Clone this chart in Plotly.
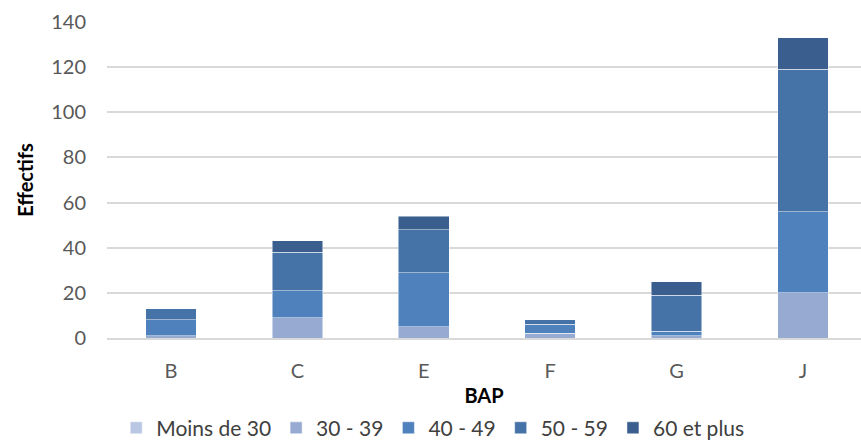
import plotly.graph_objects as go

categories = ["B", "C", "E", "F", "G", "J"]
series_names = ["Moins de 30", "30 - 39", "40 - 49", "50 - 59", "60 et plus"]
moins_30 = [0, 0, 0, 0, 0, 0]
s30_39 = [1, 9, 5, 2, 1, 20]
s40_49 = [7, 12, 24, 4, 2, 36]
s50_59 = [5, 17, 19, 2, 16, 63]
s60_plus = [0, 5, 6, 0, 6, 14]
y_ticks = [0, 20, 40, 60, 80, 100, 120, 140]

series_values = [moins_30, s30_39, s40_49, s50_59, s60_plus]
colors = ["#b9c7e2", "#97abd2", "#4f81bd", "#4572a7", "#3a5f8e"]

fig = go.Figure()
for name, vals, col in zip(series_names, series_values, colors):
    fig.add_trace(go.Bar(
        x=categories, y=vals, name=name,
        marker=dict(color=col, line=dict(color="rgba(255,255,255,0.6)", width=0.8)),
        width=0.4,
    ))

font_family = "Lato, Noto Sans, sans-serif"
fig.update_layout(
    barmode="stack",
    width=861, height=440,
    margin=dict(l=107, r=0, t=22, b=102, autoexpand=False),
    paper_bgcolor="white", plot_bgcolor="white",
    font=dict(family=font_family, size=20, color="#595959"),
    xaxis=dict(
        title=dict(text="<b>BAP</b>", font=dict(size=20, color="black"), standoff=8),
        range=[-0.506, 5.459], automargin=False,
        showline=True, linecolor="#d9d9d9", linewidth=2,
        ticks="", ticklabelstandoff=14, tickfont=dict(size=20, color="#595959"),
    ),
    yaxis=dict(
        title=dict(text="<b>Effectifs</b>", font=dict(size=20, color="black"), standoff=12),
        range=[0, 140], tickvals=y_ticks, automargin=False,
        showgrid=True, gridcolor="#d9d9d9", gridwidth=1.5,
        zeroline=False, ticks="", ticklabelstandoff=20, tickfont=dict(size=20, color="#595959"),
    ),
    legend=dict(
        orientation="h", x=0.432, xanchor="center",
        yref="container", y=0.027, yanchor="middle",
        font=dict(size=21, color="#404040"), traceorder="normal",
        itemwidth=30,
    ),
)

fig.write_html("out.html", config={"displayModeBar": False},
               post_script="document.body.style.margin='0';")
